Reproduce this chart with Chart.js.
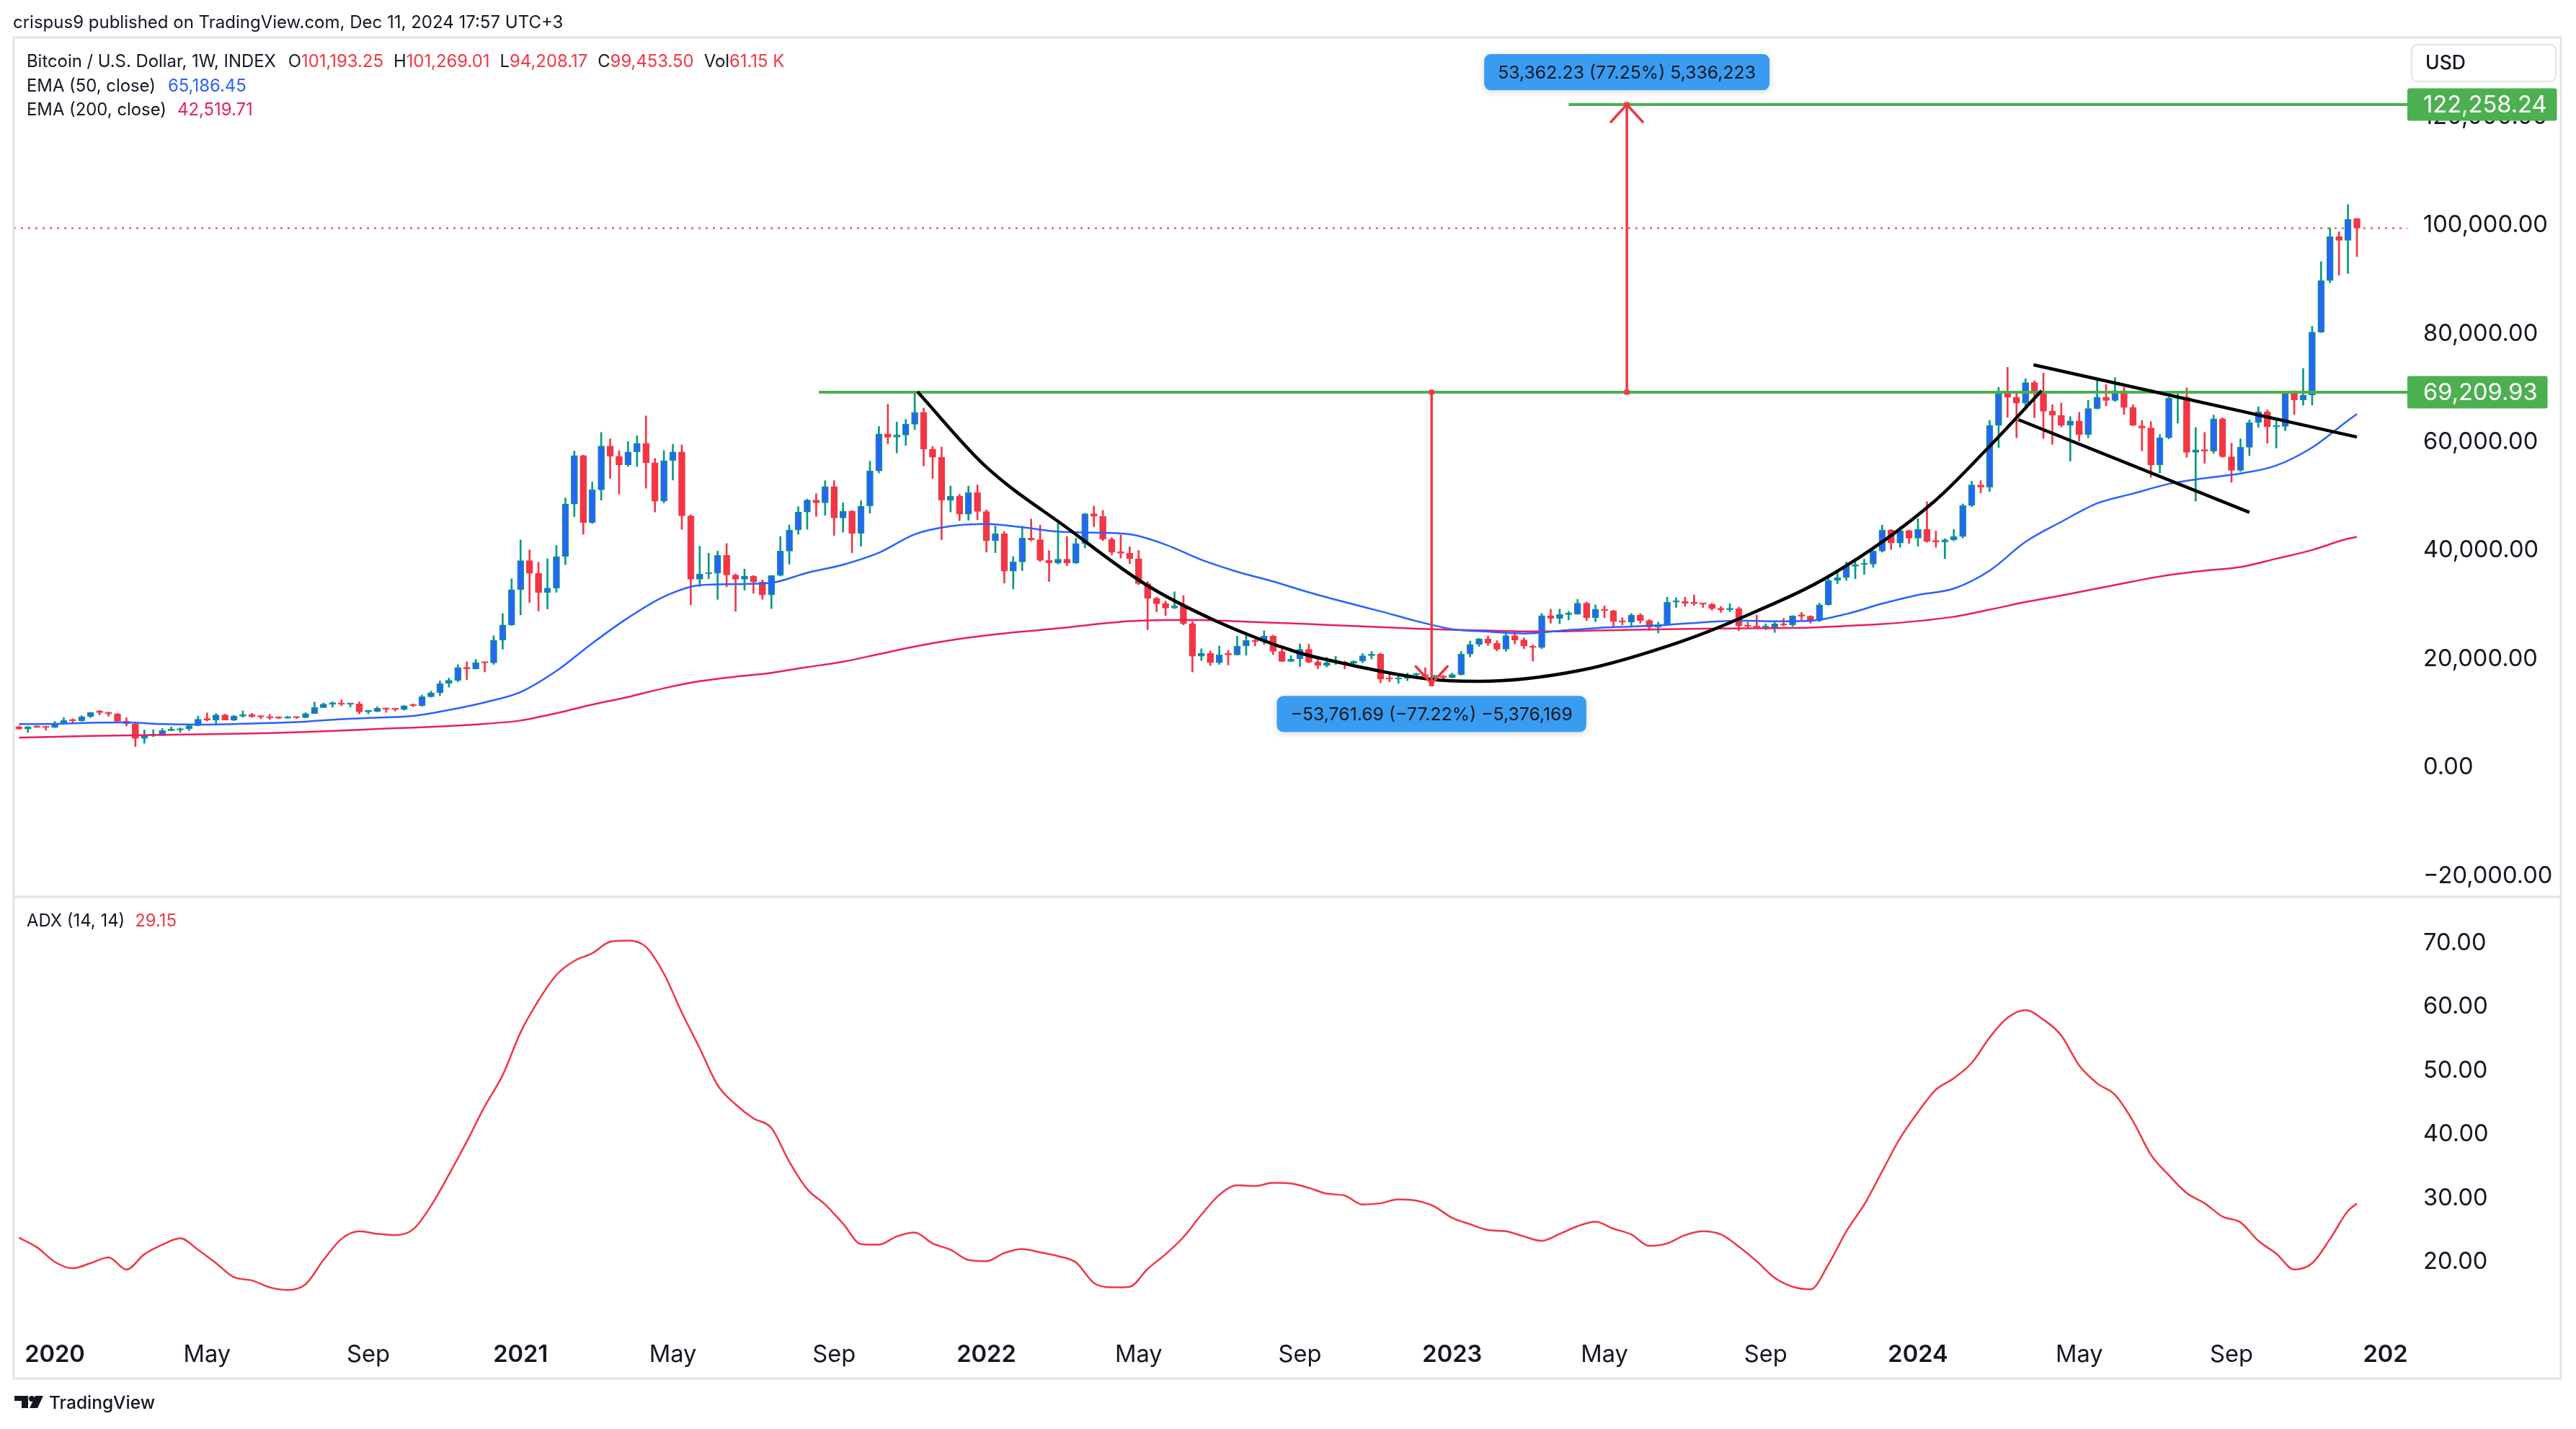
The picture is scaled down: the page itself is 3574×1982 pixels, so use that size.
<!DOCTYPE html>
<html lang="en">
<head>
<meta charset="utf-8">
<title>Bitcoin / U.S. Dollar, 1W</title>
<script src="https://cdn.jsdelivr.net/npm/chart.js@4.4.1/dist/chart.umd.min.js"></script>
<style>
  html, body { margin: 0; padding: 0; background: #ffffff; }
  canvas { display: block; }
</style>
</head>
<body>
<canvas id="btc" width="3574" height="1982"></canvas>
<script>
// ---- data: weekly BTCUSD index, week 0 = first weekly bar of 2020 ----
const firstWeek = -4;
const opens = [
  7540, 7080, 7510, 7400, 7350, 8130, 8840, 8600, 9370, 10300,
  10110, 9890, 8520, 8040, 5360, 5870, 5890, 6780, 6900, 7150,
  7700, 8900, 8750, 9680, 8720, 9450, 9750, 9340, 9300, 9120,
  9080, 9300, 9160, 9930, 11050, 11680, 11910, 11650, 11700, 10250,
  10330, 10930, 10730, 10670, 11380, 11360, 13030, 13770, 15480, 16070,
  18420, 18190, 19370, 19270, 23480, 26270, 32780, 38150, 35790, 32260,
  33090, 38900, 48580, 57540, 45160, 51200, 59300, 57400, 55800, 58200,
  59800, 56200, 49100, 56600, 58200, 46400, 34700, 35700, 35800, 39100,
  35500, 34700, 35300, 34200, 31800, 35400, 39900, 43800, 47100, 49300,
  48800, 51800, 46000, 47300, 43200, 48200, 54700, 61500, 60900, 61300,
  63300, 65500, 58700, 57200, 49300, 50000, 46700, 50700, 47200, 41800,
  43100, 36200, 37900, 42300, 42000, 38200, 37700, 38400, 37700, 41300,
  46800, 46300, 42100, 39700, 39500, 38500, 33900, 31200, 30200, 29400,
  29800, 26500, 20500, 21050, 19300, 20900, 20750, 22400, 23400, 23200,
  24200, 21400, 19550, 20000, 21800, 19420, 18800, 19300, 19400, 19200,
  19600, 20600, 20900, 16300, 16280, 16450, 17100, 17120, 16750, 16840,
  16600, 17130, 20900, 22700, 23700, 22900, 21800, 24300, 23500, 22400,
  22100, 28000, 27500, 28200, 28300, 30300, 27600, 29200, 28900, 26900,
  26800, 28100, 27100, 25900, 26300, 30500, 30600, 30300, 30200, 30100,
  29300, 29100, 29300, 26100, 26000, 25800, 25850, 26500, 26250, 27970,
  27900, 27100, 30000, 34500, 35000, 37100, 37400, 37500, 39900, 43800,
  41400, 43700, 42300, 43900, 41700, 41600, 42000, 42600, 48300, 52100,
  51700, 63100, 68900, 68300, 67200, 71000, 69200, 65700, 64950, 63100,
  63900, 61400, 66200, 68300, 67700, 69500, 66400, 63000, 62600, 55800,
  60800, 68100, 68300, 58100, 58600, 58350, 64300, 57300, 54800, 59050,
  63600, 65600, 62800, 62900, 68900, 67800, 68700, 80300, 89800, 97900,
  97200, 101193.25
];
const highs = [
  7650, 7520, 7700, 7540, 8460, 9190, 8990, 9560, 10160, 10550,
  10250, 9990, 9190, 8150, 6910, 6970, 7200, 7470, 7300, 7730,
  9460, 10070, 9950, 9840, 9600, 10430, 9990, 9590, 9790, 9370,
  9470, 9320, 10100, 12050, 11900, 12090, 12470, 11800, 12090, 10560,
  11180, 10990, 10950, 11490, 11720, 13350, 14070, 15970, 16480, 18960,
  19490, 19920, 19430, 24300, 28400, 34800, 41950, 40100, 37850, 38500,
  40950, 49700, 58350, 57600, 52640, 61800, 60600, 58400, 60100, 61200,
  64850, 57000, 58450, 59600, 59500, 46600, 40800, 39500, 39900, 41300,
  35700, 36600, 35400, 34600, 35400, 42600, 44700, 48100, 49500, 50500,
  52900, 52900, 48800, 47400, 49200, 56500, 62900, 67000, 63700, 64200,
  69000, 66300, 59200, 59100, 51900, 50400, 51900, 52100, 47500, 44500,
  43500, 38900, 44500, 45800, 44700, 40000, 45400, 42600, 42300, 46900,
  48200, 47400, 42400, 42900, 40700, 40000, 34300, 31400, 30700, 32400,
  31700, 26900, 21900, 21500, 22400, 21600, 24200, 24600, 23600, 25200,
  24400, 21800, 20600, 22800, 22700, 19900, 20300, 20500, 19600, 19700,
  21000, 21400, 21100, 17200, 16800, 17400, 17400, 18400, 17000, 17000,
  17400, 21400, 23300, 23800, 24200, 23400, 25200, 25200, 23900, 22600,
  28400, 29200, 29200, 28800, 31000, 30500, 30000, 29800, 29000, 27600,
  28400, 28400, 27300, 26800, 31400, 31300, 31400, 31800, 30300, 30300,
  29700, 30200, 29600, 26800, 28100, 26500, 27000, 27500, 28000, 28600,
  28000, 30300, 35200, 35900, 37900, 37900, 38400, 40000, 44700, 43900,
  44400, 43800, 45900, 49000, 43600, 42200, 43900, 48600, 52800, 52900,
  64000, 70100, 73800, 68900, 71700, 71300, 72700, 66900, 67200, 64700,
  65500, 67700, 71900, 70600, 71900, 70100, 66900, 64000, 63800, 61400,
  68300, 69400, 70000, 62700, 61800, 65000, 64500, 59800, 60600, 64100,
  66500, 66000, 64500, 69400, 69500, 73600, 81400, 93300, 99500, 98800,
  103800, 101269.01
];
const lows = [
  7010, 6440, 7350, 6870, 7350, 8030, 8270, 8500, 9170, 9700,
  9450, 8500, 7630, 3850, 4450, 5680, 5860, 6770, 6470, 6790,
  7650, 8550, 8120, 8820, 8630, 9260, 9250, 8990, 8850, 8970,
  9050, 9010, 9140, 9920, 11000, 11120, 11380, 11150, 9880, 9880,
  10250, 10150, 10400, 10540, 11200, 11280, 12950, 13220, 14810, 15800,
  16200, 18110, 17600, 19000, 21800, 26150, 28130, 30400, 28850, 29240,
  32300, 37400, 46250, 43000, 45000, 49300, 53300, 50400, 55500, 55500,
  51500, 47100, 48800, 53000, 43900, 30000, 33400, 34800, 31000, 33300,
  28800, 32700, 32100, 31000, 29300, 35300, 37500, 43000, 43900, 46300,
  46500, 42800, 43400, 39600, 40800, 46900, 54300, 59700, 58000, 59400,
  62300, 55600, 53300, 42000, 47100, 45500, 45600, 45700, 39700, 39600,
  34000, 32900, 36300, 41800, 38000, 34300, 37500, 37200, 37600, 40500,
  44400, 41800, 39200, 38600, 37600, 33700, 25400, 28700, 28000, 29300,
  26300, 17600, 19700, 18800, 19000, 18900, 20700, 20700, 22400, 22700,
  20800, 19500, 19500, 18600, 19300, 18200, 18500, 19000, 18200, 18700,
  19300, 20000, 15600, 15800, 15500, 16000, 16700, 16600, 16400, 16300,
  16500, 17000, 20400, 22300, 22500, 21500, 21400, 22800, 21900, 19600,
  21900, 26600, 26500, 27200, 28200, 27100, 26900, 27600, 25800, 26300,
  25900, 26600, 25300, 24800, 26200, 29500, 29700, 29900, 29500, 29000,
  28600, 28700, 25200, 25800, 25700, 25400, 24900, 26100, 26000, 27200,
  26600, 26900, 29900, 33900, 34500, 34800, 35600, 36900, 39700, 40200,
  40600, 41300, 40800, 41500, 40600, 38500, 41800, 42300, 48100, 50600,
  50900, 59000, 64600, 60800, 66600, 64500, 60700, 59600, 62800, 56500,
  60200, 60800, 66100, 66700, 67500, 65100, 63000, 58400, 53500, 54300,
  60600, 63500, 57200, 49100, 56100, 57900, 57200, 52600, 54600, 57500,
  62700, 59800, 58900, 62100, 65100, 66800, 66800, 80200, 89400, 90800,
  91100, 94208.17
];
const closes = [
  7080, 7510, 7400, 7350, 8130, 8660, 8600, 9370, 10160, 10110,
  9890, 8520, 8040, 5360, 5870, 5890, 6780, 6900, 7150, 7700,
  8900, 8750, 9680, 8720, 9450, 9750, 9340, 9300, 9120, 9080,
  9300, 9160, 9930, 11050, 11680, 11910, 11650, 11700, 10250, 10330,
  10930, 10730, 10670, 11380, 11360, 13030, 13770, 15480, 16070, 18420,
  18190, 19370, 19270, 23480, 26270, 32780, 38150, 35790, 32260, 33090,
  38900, 48580, 57540, 45160, 51200, 59300, 57400, 55800, 58200, 59800,
  56200, 49100, 56600, 58200, 46400, 34700, 35700, 35800, 39100, 35500,
  34700, 35300, 34200, 31800, 35400, 39900, 43800, 47100, 49300, 48800,
  51800, 46000, 47300, 43200, 48200, 54700, 61500, 60900, 61300, 63300,
  65500, 58700, 57200, 49300, 50000, 46700, 50700, 47200, 41800, 43100,
  36200, 37900, 42300, 42000, 38200, 37700, 38400, 37700, 41300, 46800,
  46300, 42100, 39700, 39500, 38500, 33900, 31200, 30200, 29400, 29800,
  26500, 20500, 21050, 19300, 20800, 20750, 22400, 23400, 23200, 24200,
  21400, 19550, 20000, 21800, 19420, 18800, 19300, 19400, 19200, 19600,
  20600, 20900, 16300, 16280, 16450, 17100, 17120, 16750, 16840, 16600,
  17130, 20900, 22700, 23700, 22900, 21800, 24300, 23500, 22400, 22100,
  28000, 27500, 28200, 28300, 30300, 27600, 29200, 28900, 26900, 26800,
  28100, 27100, 25900, 26300, 30500, 30600, 30300, 30200, 30100, 29300,
  29100, 29300, 26100, 26000, 25800, 25850, 26500, 26250, 27970, 27900,
  27100, 30000, 34500, 35000, 37100, 37400, 37500, 39900, 43800, 41400,
  43700, 42300, 43900, 41700, 41600, 42000, 42600, 48300, 52100, 51700,
  63100, 68900, 68300, 67200, 71000, 69200, 65700, 64950, 63100, 63900,
  61400, 66200, 68300, 67700, 69500, 66400, 63100, 62600, 55800, 60800,
  68100, 68300, 58100, 58600, 58350, 64300, 57300, 54800, 59050, 63600,
  65600, 62800, 62900, 68900, 67800, 68700, 80300, 89800, 97900, 97200,
  101100, 99453.50
];
const lastVolume = '61.15 K';

// moving averages every 4 weeks
const emaWeeks = [
  -4, 0, 4, 8, 12, 16, 20, 24, 28, 32, 36, 40, 44, 48, 52, 56, 60, 64, 68, 72,
  76, 80, 84, 88, 92, 96, 100, 104, 108, 112, 116, 120, 124, 128, 132, 136, 140, 144, 148, 152,
  156, 160, 164, 168, 172, 176, 180, 184, 188, 192, 196, 200, 204, 208, 212, 216, 220, 224, 228, 232,
  236, 240, 244, 248, 252, 256, 257
];
const ema50 = [
  8000, 8050, 8250, 8300, 8000, 7900, 8000, 8200, 8450, 8900, 9200, 9500, 10600, 12000, 13900, 17800, 22900, 27600, 31500, 33600,
  33800, 34050, 35900, 37400, 39600, 43000, 44500, 44900, 44300, 43500, 43300, 43000, 41100, 38300, 36100, 34300, 32300, 30500, 28800, 27000,
  25500, 25050, 24700, 25200, 25700, 26000, 26300, 26750, 27100, 26950, 27050, 28300, 30200, 31800, 33000, 36300, 41600, 45300, 48700, 50500,
  52300, 53350, 54200, 55700, 59000, 64000, 65186.45
];
const ema200 = [
  5500, 5650, 5800, 5900, 6000, 6100, 6200, 6350, 6550, 6800, 7100, 7350, 7650, 8050, 8650, 10000, 11600, 13000, 14600, 15900,
  16750, 17450, 18500, 19500, 20900, 22300, 23450, 24350, 25050, 25650, 26400, 27000, 27200, 27200, 26950, 26700, 26450, 26150, 25900, 25600,
  25400, 25250, 25100, 25100, 25250, 25400, 25500, 25600, 25650, 25700, 25800, 26100, 26450, 27000, 27800, 29100, 30500, 31700, 33000, 34300,
  35500, 36300, 36950, 38500, 40100, 42200, 42519.71
];

// ADX (14, 14) read every 2 weeks from week -4, last value on the final bar
const adxValues = [
  23.8, 22.3, 20.0, 19.0, 19.8, 20.7, 18.8, 21.2, 22.7, 23.7,
  21.9, 19.8, 17.6, 17.1, 16.0, 15.6, 16.5, 20.3, 23.6, 24.8,
  24.4, 24.2, 25.1, 28.8, 33.7, 38.9, 44.4, 49.3, 56.0, 61.0,
  65.0, 67.2, 68.4, 70.2, 70.4, 69.4, 65.2, 59.1, 53.5, 47.7,
  44.7, 42.5, 41.0, 35.7, 31.4, 29.0, 26.0, 22.8, 22.7, 24.0,
  24.6, 22.9, 21.9, 20.3, 20.1, 21.4, 22.0, 21.5, 20.9, 19.9,
  16.7, 16.0, 16.1, 18.9, 21.2, 23.9, 27.4, 30.5, 32.0, 31.9,
  32.4, 32.3, 31.6, 30.7, 30.4, 29.0, 29.2, 29.8, 29.6, 28.7,
  26.9, 25.9, 25.0, 24.8, 24.0, 23.3, 24.4, 25.6, 26.3, 25.2,
  24.3, 22.5, 22.9, 24.2, 24.8, 24.3, 22.4, 20.1, 17.5, 16.1,
  15.7, 19.6, 24.8, 29.0, 34.2, 39.4, 43.5, 47.0, 48.8, 51.2,
  55.2, 58.3, 59.5, 58.0, 55.5, 50.8, 48.0, 46.2, 42.1, 36.8,
  33.6, 30.8, 29.2, 27.1, 26.2, 23.3, 21.3, 18.8, 19.8, 23.6,
  28.0, 29.15
];

// drawings on the chart: cup arc, flag, levels, measure tool
const arcWeeks = [96.3, 103.9, 113.1, 121.7, 129.7, 138.8, 142.0, 153.3, 158.9, 170.2, 181.5, 188.3, 198.4, 209.7, 215.6, 221.8];
const arcValues = [69300, 55550, 44070, 33830, 26960, 21200, 19870, 16320, 15880, 17870, 23190, 27620, 35600, 48900, 58560, 69500];
const flagTopWeeks = [220.9, 257.0];
const flagTopValues = [74260, 60950];
const flagLowWeeks = [219.2, 245.0];
const flagLowValues = [64150, 47040];
const levelValues = [69209.93, 122258.24];
const levelFromWeeks = [85.3, 169.0];
const riseWeek = 175.5, riseFrom = 69209.93, riseTo = 122258.24;
const riseText = '53,362.23 (77.25%) 5,336,223';
const dropWeek = 153.7, dropFrom = 69209.93, dropTo = 15448.24;
const dropText = '\u221253,761.69 (\u221277.22%) \u22125,376,169';

// axes
const tickWeeks = [0, 17, 35, 52, 69, 87, 104, 121, 139, 156, 173, 191, 208, 226, 243, 261];
const tickLabels = ['2020', 'May', 'Sep', '2021', 'May', 'Sep', '2022', 'May', 'Sep', '2023', 'May', 'Sep', '2024', 'May', 'Sep', '2025'];
const priceTicks = [-20000, 0, 20000, 40000, 60000, 80000, 100000, 120000];
const adxTicks = [20, 30, 40, 50, 60, 70];

// ---- layout / style ----
const W = 3574, H = 1982;
const PLOT_LEFT = 19, PLOT_TOP = 52, PLOT_RIGHT = 3340, PANE_BOTTOM = 1840;
const FRAME_RIGHT = 3553, FRAME_BOTTOM = 1912;
const xMin = -4.586, xMax = 262.63;
const FONT = 'Inter, "Noto Sans", sans-serif';
const TEXT = '#131722', RED = '#f23645', BLUE = '#2962ff', TEAL = '#089981';
const PINK = '#e91e63', GREEN = '#4caf50', TAG_BLUE = '#3a9cf0', FRAME = '#e0e3eb';

const meter = document.createElement('canvas').getContext('2d');
function fitSize(str, width, weight) {
  meter.font = `${weight} 100px ${FONT}`;
  return 100 * width / meter.measureText(str).width;
}
const axisSize = fitSize('100,000.00', 173, 400);
const headerSize = fitSize('crispus9 published on TradingView.com, Dec 11, 2024 17:57 UTC+3', 764, 400);
const legendSize = fitSize('Bitcoin / U.S. Dollar, 1W, INDEX', 346, 400);
const tagSize = fitSize(riseText, 358, 400);
const usdSize = fitSize('USD', 56, 500);
const logoSize = fitSize('TradingView', 147, 500);

const money = v => (v < 0 ? '\u2212' : '') +
  Math.abs(v).toLocaleString('en-US', { minimumFractionDigits: 2, maximumFractionDigits: 2 });

const weeks = opens.map((_, k) => firstWeek + k);
const lastWeek = weeks[weeks.length - 1];
const isUp = k => closes[k] >= opens[k];
const pts = (xs, ys) => xs.map((x, k) => ({ x, y: ys[k] }));
const adxWeeks = adxValues.map((_, k) => Math.min(-4 + 2 * k, lastWeek));

function line(data, color, width, order, extra) {
  return Object.assign({
    type: 'line', data, borderColor: color, borderWidth: width, pointRadius: 0,
    yAxisID: 'y', order, cubicInterpolationMode: 'monotone'
  }, extra || {});
}

const datasets = [
  line([{ x: xMin, y: closes[closes.length - 1] }, { x: xMax, y: closes[closes.length - 1] }], RED, 2, 20,
    { borderDash: [3, 7] }),
  {
    type: 'bar', data: weeks.map((w, k) => ({ x: w, y: [lows[k], highs[k]] })),
    backgroundColor: c => isUp(c.dataIndex) ? TEAL : RED,
    barThickness: 2, grouped: false, yAxisID: 'y', order: 12
  },
  {
    type: 'bar', data: weeks.map((w, k) => ({ x: w, y: [opens[k], closes[k]] })),
    backgroundColor: c => isUp(c.dataIndex) ? BLUE : RED,
    borderColor: c => isUp(c.dataIndex) ? TEAL : RED,
    borderWidth: 1.5, borderSkipped: false, barThickness: 9, minBarLength: 2,
    grouped: false, yAxisID: 'y', order: 11
  },
  line(pts(emaWeeks, ema200), PINK, 2.5, 9),
  line(pts(emaWeeks, ema50), BLUE, 2.5, 8),
  line(pts(adxWeeks, adxValues), RED, 2.5, 7, { yAxisID: 'yAdx' }),
  line([{ x: levelFromWeeks[0], y: levelValues[0] }, { x: xMax, y: levelValues[0] }], GREEN, 4, 5),
  line([{ x: levelFromWeeks[1], y: levelValues[1] }, { x: xMax, y: levelValues[1] }], GREEN, 4, 5),
  line(pts(arcWeeks, arcValues), '#000000', 4.5, 4),
  line(pts(flagTopWeeks, flagTopValues), '#000000', 4.5, 4),
  line(pts(flagLowWeeks, flagLowValues), '#000000', 4.5, 4),
  line([{ x: dropWeek, y: dropFrom }, { x: dropWeek, y: dropTo }], RED, 3.5, 3,
    { pointRadius: 5, pointStyle: 'rect', pointBackgroundColor: RED, pointBorderWidth: 0 }),
  line([{ x: riseWeek, y: riseFrom }, { x: riseWeek, y: riseTo }], RED, 3.5, 3,
    { pointRadius: 5, pointStyle: 'rect', pointBackgroundColor: RED, pointBorderWidth: 0 })
];

function chevron(c, x, y, dir) {
  c.beginPath();
  c.moveTo(x - 22, y - dir * 24);
  c.lineTo(x, y);
  c.lineTo(x + 22, y - dir * 24);
  c.stroke();
}

function say(c, str, x, y, size, color, weight) {
  c.font = `${weight || 400} ${size}px ${FONT}`;
  c.fillStyle = color;
  c.textAlign = 'left';
  c.textBaseline = 'middle';
  c.fillText(str, x, y);
  return x + c.measureText(str).width;
}

function tagBox(c, str, cx, top) {
  c.font = `400 ${tagSize}px ${FONT}`;
  const w = c.measureText(str).width + 38, h = 50;
  c.save();
  c.shadowColor = 'rgba(19,23,34,0.18)';
  c.shadowBlur = 10;
  c.shadowOffsetY = 2;
  c.fillStyle = TAG_BLUE;
  c.beginPath();
  c.roundRect(cx - w / 2, top, w, h, 9);
  c.fill();
  c.restore();
  c.fillStyle = TEXT;
  c.textAlign = 'center';
  c.textBaseline = 'middle';
  c.fillText(str, cx, top + h / 2 + 1);
}

const overlay = {
  id: 'overlay',
  beforeDraw(chart) {
    const c = chart.ctx;
    c.save();
    c.fillStyle = '#ffffff';
    c.fillRect(0, 0, W, H);
    c.restore();
  },
  afterDatasetsDraw(chart) {
    const c = chart.ctx, xs = chart.scales.x, ys = chart.scales.y;
    c.save();
    c.strokeStyle = RED;
    c.lineWidth = 3.5;
    c.lineCap = 'round';
    c.lineJoin = 'round';
    chevron(c, xs.getPixelForValue(riseWeek), ys.getPixelForValue(riseTo), -1);
    chevron(c, xs.getPixelForValue(dropWeek), ys.getPixelForValue(dropTo), 1);
    c.restore();
  },
  afterDraw(chart) {
    const c = chart.ctx, xs = chart.scales.x, ys = chart.scales.y, ya = chart.scales.yAdx;
    c.save();

    // the 2025 label runs under the price scale and gets cut there
    c.fillStyle = '#ffffff';
    c.fillRect(PLOT_RIGHT + 1, PANE_BOTTOM + 2, FRAME_RIGHT - PLOT_RIGHT - 3, FRAME_BOTTOM - PANE_BOTTOM - 4);

    c.strokeStyle = FRAME;
    c.lineWidth = 3;
    c.strokeRect(PLOT_LEFT, PLOT_TOP, FRAME_RIGHT - PLOT_LEFT, FRAME_BOTTOM - PLOT_TOP);
    c.beginPath();
    c.moveTo(PLOT_LEFT, ys.bottom);
    c.lineTo(FRAME_RIGHT, ys.bottom);
    c.stroke();

    say(c, 'crispus9 published on TradingView.com, Dec 11, 2024 17:57 UTC+3', 18, 32, headerSize, TEXT);

    const n = opens.length - 1;
    let x = say(c, 'Bitcoin / U.S. Dollar, 1W, INDEX', 37, 86, legendSize, TEXT) + 17;
    const ohlc = [['O', money(opens[n])], ['H', money(highs[n])], ['L', money(lows[n])], ['C', money(closes[n])], ['Vol', lastVolume]];
    ohlc.forEach(([k, v]) => {
      x = say(c, k, x, 86, legendSize, TEXT);
      x = say(c, v, x, 86, legendSize, RED) + 14;
    });
    x = say(c, 'EMA (50, close)', 37, 120, legendSize, TEXT) + 17;
    say(c, money(ema50[ema50.length - 1]), x, 120, legendSize, BLUE);
    x = say(c, 'EMA (200, close)', 37, 153, legendSize, TEXT) + 15;
    say(c, money(ema200[ema200.length - 1]), x, 153, legendSize, PINK);
    x = say(c, 'ADX (14, 14)', 37, ya.top + 34, legendSize, TEXT) + 14;
    say(c, adxValues[adxValues.length - 1].toFixed(2), x, ya.top + 34, legendSize, RED);

    // price scale tags for the two levels
    levelValues.forEach(v => {
      const y = ys.getPixelForValue(v), s = money(v);
      c.font = `400 ${axisSize}px ${FONT}`;
      const w = c.measureText(s).width + 36;
      c.fillStyle = GREEN;
      c.beginPath();
      c.roundRect(PLOT_RIGHT, y - 22.5, w, 45, 3);
      c.fill();
      say(c, s, PLOT_RIGHT + 22, y + 1, axisSize, '#ffffff');
    });

    c.strokeStyle = FRAME;
    c.lineWidth = 2;
    c.beginPath();
    c.roundRect(3346, 62, 200, 51, 8);
    c.stroke();
    say(c, 'USD', 3365, 88, usdSize, TEXT, 500);

    // measure tool labels
    tagBox(c, riseText, xs.getPixelForValue(riseWeek), ys.getPixelForValue(riseTo) - 70);
    tagBox(c, dropText, xs.getPixelForValue(dropWeek), ys.getPixelForValue(dropTo) + 17);

    // TradingView mark
    c.fillStyle = TEXT;
    c.fillRect(20, 1936, 19, 7);
    c.fillRect(30, 1936, 9, 17);
    c.beginPath();
    c.arc(44, 1940, 4, 0, Math.PI * 2);
    c.fill();
    c.beginPath();
    c.moveTo(49, 1936);
    c.lineTo(60, 1936);
    c.lineTo(52, 1953);
    c.lineTo(41, 1953);
    c.closePath();
    c.fill();
    say(c, 'TradingView', 68, 1947, logoSize, TEXT, 500);

    c.restore();
  }
};

const noGrid = { display: false, drawTicks: false };
new Chart(document.getElementById('btc'), {
  type: 'bar',
  data: { datasets },
  options: {
    responsive: false,
    animation: false,
    devicePixelRatio: 1,
    events: [],
    layout: { padding: { left: PLOT_LEFT, top: PLOT_TOP, right: 0, bottom: 0 } },
    plugins: { legend: { display: false }, tooltip: { enabled: false } },
    scales: {
      x: {
        type: 'linear', min: xMin, max: xMax, offset: false,
        grid: noGrid, border: { display: false },
        afterBuildTicks: s => { s.ticks = tickWeeks.map(v => ({ value: v })); },
        afterFit: s => { s.height = H - PANE_BOTTOM; },
        ticks: {
          autoSkip: false, maxRotation: 0, minRotation: 0, padding: 20, color: TEXT,
          font: c => ({ family: FONT, size: axisSize, weight: /^\d/.test(tickLabels[c.index] || '') ? '600' : '400' }),
          callback: (v, i) => tickLabels[i]
        }
      },
      y: {
        type: 'linear', position: 'right', stack: 'panes', stackWeight: 2, weight: 1,
        min: -23880, max: 134630,
        grid: noGrid, border: { display: false },
        afterFit: s => { s.width = W - PLOT_RIGHT; },
        afterBuildTicks: s => { s.ticks = priceTicks.map(v => ({ value: v })); },
        ticks: {
          autoSkip: false, padding: 22, color: TEXT,
          font: { family: FONT, size: axisSize }, callback: v => money(v)
        }
      },
      yAdx: {
        type: 'linear', position: 'right', stack: 'panes', stackWeight: 1, weight: 2,
        min: 9.85, max: 77.24,
        grid: noGrid, border: { display: false },
        afterFit: s => { s.width = W - PLOT_RIGHT; },
        afterBuildTicks: s => { s.ticks = adxTicks.map(v => ({ value: v })); },
        ticks: {
          autoSkip: false, padding: 22, color: TEXT,
          font: { family: FONT, size: axisSize }, callback: v => v.toFixed(2)
        }
      }
    }
  },
  plugins: [overlay]
});
</script>
</body>
</html>
